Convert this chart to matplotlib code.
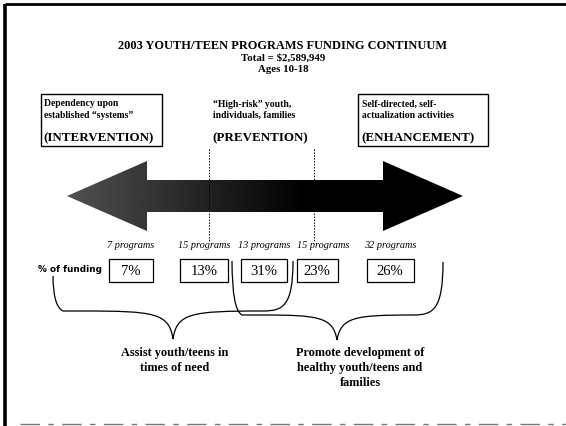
import matplotlib
matplotlib.use("Agg")
import matplotlib.pyplot as plt
import numpy as np
from matplotlib.path import Path
from matplotlib.patches import PathPatch, Rectangle

# ---- data ----
title_lines = ["2003 YOUTH/TEEN PROGRAMS FUNDING CONTINUUM", "Total = $2,589,949", "Ages 10-18"]
categories = ["INTERVENTION", "PREVENTION", "ENHANCEMENT"]
category_desc = [["Dependency upon", "established \u201csystems\u201d"],
                 ["\u201cHigh-risk\u201d youth,", "individuals, families"],
                 ["Self-directed, self-", "actualization activities"]]
program_counts = [7, 15, 13, 15, 32]
funding_pct = [7, 13, 31, 23, 26]
funding_label = "% of funding"
brace_labels = [["Assist youth/teens in", "times of need"],
                ["Promote development of", "healthy youth/teens and", "families"]]

W, H = 566, 427
fig = plt.figure(figsize=(W / 100, H / 100), dpi=100)
ax = fig.add_axes([0, 0, 1, 1])
ax.set_xlim(0, W)
ax.set_ylim(H, 0)
ax.axis("off")

SERIF = "Liberation Serif"

# border
ax.plot([5, 5], [5, 427], color="black", lw=2.6, solid_capstyle="butt")
ax.plot([5, 566], [5, 5], color="black", lw=2.0, solid_capstyle="butt")
ax.plot([20, 566], [425, 425], color="#777777", lw=1.0, ls=(0, (14, 6, 4, 6)))

# title
ty = [46, 58.5, 70]
for k, (t, y) in enumerate(zip(title_lines, ty)):
    ax.text(283, y, t, ha="center", va="center", fontfamily=SERIF,
            fontweight="bold", fontsize=8.9 if k == 0 else 7.8)

# category boxes
box_x = [(41, 162), (None, None), (358, 488)]
text_left = [44, 213, 362]
for i in range(3):
    x0, x1 = box_x[i]
    if x0 is not None:
        ax.add_patch(Rectangle((x0, 95), x1 - x0, 52, fill=False, ec="black", lw=1.0))
    for j, line in enumerate(category_desc[i]):
        ax.text(text_left[i], 104 + j * 11.5, line, ha="left", va="center",
                fontfamily=SERIF, fontweight="bold", fontsize=6.9)
    ax.text(text_left[i] - 1, 138.5, "(" + categories[i] + ")", ha="left", va="center",
            fontfamily=SERIF, fontweight="bold", fontsize=9.4)

# double arrow with gradient fill
lt, lb, rb, rt = 67, 147, 383, 463
cy, hh, sh = 197, 35, 16
verts = [(lt, cy), (lb, cy - hh), (lb, cy - sh), (rb, cy - sh), (rb, cy - hh), (rt, cy),
         (rb, cy + hh), (rb, cy + sh), (lb, cy + sh), (lb, cy + hh), (lt, cy)]
arrow_path = Path(verts, [Path.MOVETO] + [Path.LINETO] * (len(verts) - 2) + [Path.CLOSEPOLY])
patch = PathPatch(arrow_path, fc="none", ec="none")
ax.add_patch(patch)
grad = np.clip(np.linspace(0, 1, 400) / 0.6, 0, 1)
vals = 0.32 * (1 - grad)
img = np.tile(vals, (10, 1))
im = ax.imshow(img, extent=[lt, rt, cy + hh, cy - hh], cmap="gray", vmin=0, vmax=1,
               aspect="auto", interpolation="bilinear", zorder=2)
im.set_clip_path(patch)

# dotted dividers
for x in [209, 314]:
    ax.plot([x, x], [150, 243], color="black", lw=0.7, ls=(0, (1.5, 1.5)), zorder=3)

# programs and funding
centers = [131, 204, 264, 323, 390]
box_w = [44, 48, 46, 41, 47]
box_c = [131, 204, 264, 317, 390]
for c, bc, n, p, bw in zip(centers, box_c, program_counts, funding_pct, box_w):
    ax.text(c, 246, f"{n} programs", ha="center", va="center", fontfamily=SERIF,
            fontstyle="italic", fontsize=7.4)
    ax.add_patch(Rectangle((bc - bw / 2, 260), bw, 23, fill=False, ec="black", lw=0.9))
    ax.text(bc, 272, f"{p}%", ha="center", va="center", fontfamily=SERIF, fontsize=10.5)
ax.text(38, 270, funding_label, ha="left", va="center", fontfamily="Liberation Sans Narrow",
        fontweight="bold", fontsize=6.4)


# braces
def brace(xl, yl, xr, yr, xt, ybar, ytip):
    P = [(xl, yl),
         (xl, ybar - 5), (xl + 10, ybar), (xl + 30, ybar),
         (xt - 18, ybar), (xt - 4, ybar + 2), (xt, ytip),
         (xt + 4, ybar + 2), (xt + 18, ybar), (xr - 30, ybar),
         (xr - 10, ybar), (xr, ybar - 5), (xr, yr)]
    C = [Path.MOVETO,
         Path.CURVE3, Path.CURVE3, Path.LINETO,
         Path.CURVE4, Path.CURVE4, Path.CURVE4,
         Path.CURVE4, Path.CURVE4, Path.CURVE4,
         Path.CURVE4, Path.CURVE4, Path.CURVE4]
    ax.add_patch(PathPatch(Path(P, C), fc="none", ec="black", lw=0.9, zorder=3))


brace(53, 277, 293, 262, 173, 312, 340)
brace(232, 262, 443, 263, 337, 316, 341)

# labels under braces
for lines, cx in zip(brace_labels, [175, 360]):
    for j, line in enumerate(lines):
        ax.text(cx, 353 + j * 15, line, ha="center", va="center", fontfamily=SERIF,
                fontweight="bold", fontsize=8.8)

fig.savefig("out.png", dpi=100)
